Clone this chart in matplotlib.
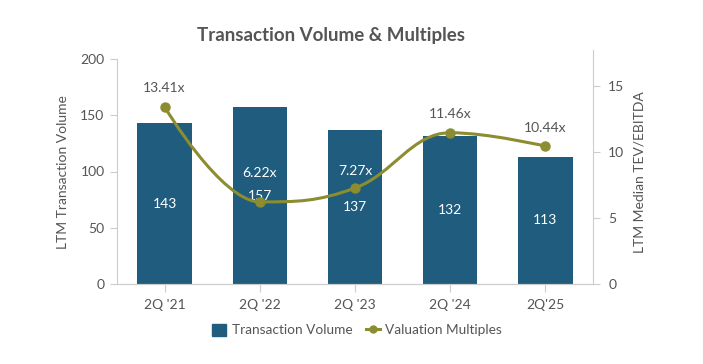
import matplotlib
matplotlib.use("Agg")
import matplotlib.pyplot as plt
from matplotlib.path import Path
from matplotlib.patches import PathPatch
from matplotlib.lines import Line2D
from matplotlib.patches import Patch

categories = ["2Q '21", "2Q '22", "2Q '23", "2Q '24", "2Q'25"]
volume = [143, 157, 137, 132, 113]
multiples = [13.41, 6.22, 7.27, 11.46, 10.44]
multiple_labels = ["13.41x", "6.22x", "7.27x", "11.46x", "10.44x"]

BAR = "#1f5c7e"
LINE = "#8c8c30"
TXT = "#555555"
AX = "#cccccc"

# label styling (offsets in points above the marker, colours)
label_offsets = [14, 21, 12, 13.5, 13]
label_colors = [TXT, 'white', 'white', TXT, TXT]

plt.rcParams['font.family'] = ['Lato', 'DejaVu Sans']

fig = plt.figure(figsize=(7.03, 3.64), dpi=100)
ax = fig.add_axes([117/703, 1-284/364, (593-117)/703, (284-59)/364])
ax2 = ax.twinx()

x = list(range(len(categories)))
ax.bar(x, volume, width=0.57, color=BAR, zorder=2)
for xi, v in zip(x, volume):
    ax.text(xi, v/2, str(v), ha='center', va='center', color='white', fontsize=10, zorder=5)

ax.set_xlim(-0.5, len(categories)-0.5)
ax.set_ylim(0, 200)
ax.set_yticks([0, 50, 100, 150, 200])
ax.set_xticks(x)
ax.set_xticklabels(categories)
rmax = 15*225/198
ax2.set_ylim(0, rmax)
ax2.set_yticks([0, 5, 10, 15])

# Highcharts-like spline through the points
def spline_path(xs, ys, smoothing=1.5):
    denom = smoothing + 1
    n = len(xs)
    lc = [None]*n
    rc = [None]*n
    for i in range(n):
        px, py = xs[i], ys[i]
        if 0 < i < n-1:
            lx, ly = xs[i-1], ys[i-1]
            nx, ny = xs[i+1], ys[i+1]
            lcx = (smoothing*px + lx)/denom
            lcy = (smoothing*py + ly)/denom
            rcx = (smoothing*px + nx)/denom
            rcy = (smoothing*py + ny)/denom
            corr = 0
            if rcx != lcx:
                corr = ((rcy - lcy)*(rcx - px))/(rcx - lcx) + py - rcy
            lcy += corr
            rcy += corr
            if lcy > ly and lcy > py:
                lcy = max(ly, py); rcy = 2*py - lcy
            elif lcy < ly and lcy < py:
                lcy = min(ly, py); rcy = 2*py - lcy
            if rcy > ny and rcy > py:
                rcy = max(ny, py); lcy = 2*py - rcy
            elif rcy < ny and rcy < py:
                rcy = min(ny, py); lcy = 2*py - rcy
            lc[i] = (lcx, lcy); rc[i] = (rcx, rcy)
        else:
            lc[i] = (px, py); rc[i] = (px, py)
    verts = [(xs[0], ys[0])]
    codes = [Path.MOVETO]
    for i in range(1, n):
        verts += [rc[i-1], lc[i], (xs[i], ys[i])]
        codes += [Path.CURVE4]*3
    return Path(verts, codes)

ax2.add_patch(PathPatch(spline_path(x, multiples), facecolor='none', edgecolor=LINE, lw=2.2, zorder=3))
ax2.plot(x, multiples, 'o', color=LINE, ms=6.5, zorder=4, linestyle='none')
for xi, m, lab, off, c in zip(x, multiples, multiple_labels, label_offsets, label_colors):
    ax2.annotate(lab, (xi, m), xytext=(0, off), textcoords='offset points', ha='center', va='center',
                 color=c, fontsize=10, zorder=6)

for a in (ax, ax2):
    a.spines['top'].set_visible(False)
    a.spines['left'].set_color(AX)
    a.spines['right'].set_color(AX)
    a.spines['bottom'].set_color(AX)
    a.tick_params(colors=TXT, labelsize=10, length=5, width=0.8)
    a.tick_params(axis='both', color=AX)
ax2.spines['left'].set_visible(False)
ax.spines['right'].set_visible(False)
ax2.spines['right'].set_bounds(0, 15*234/198)
ax.tick_params(axis='x', length=6, pad=5)
ax.tick_params(axis='y', pad=4)
ax2.tick_params(axis='y', pad=6)

ax.set_ylabel("LTM Transaction Volume", color=TXT, fontsize=10)
ax2.set_ylabel("LTM Median TEV/EBITDA", color=TXT, fontsize=10)
ax.yaxis.set_label_coords(69/703, (364-172)/364, transform=fig.transFigure)
ax2.yaxis.set_label_coords(633/703, (364-172)/364, transform=fig.transFigure)

fig.text(331/703, 1-35/364, "Transaction Volume & Multiples", ha='center', va='center',
         fontsize=13.5, fontweight='bold', color=TXT)

handles = [Patch(facecolor=BAR, edgecolor=BAR),
           Line2D([0], [0], color=LINE, lw=2.2, marker='o', ms=5)]
fig.legend(handles, ["Transaction Volume", "Valuation Multiples"], loc='center',
           bbox_to_anchor=(357/703, 1-330/364), ncol=2, frameon=False, fontsize=9.8,
           labelcolor=TXT, handlelength=1.05, handleheight=1.0, columnspacing=1.0, handletextpad=0.4)

fig.savefig("out.png", dpi=100)
